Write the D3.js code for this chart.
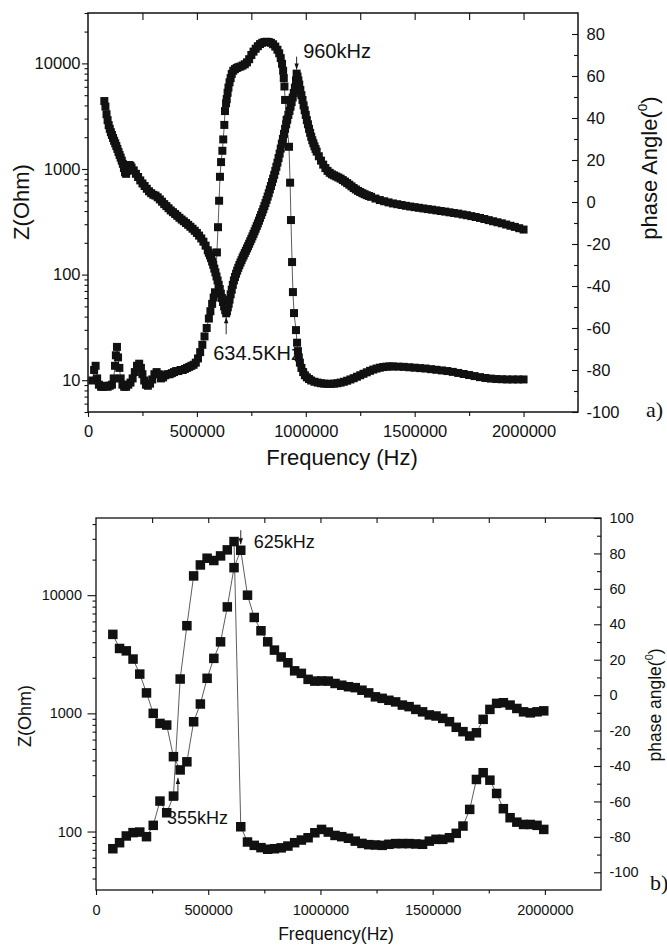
<!DOCTYPE html>
<html>
<head>
<meta charset="utf-8">
<script src="https://cdn.jsdelivr.net/npm/d3@7"></script>
<style>
  body { margin: 0; background: #fff; }
  svg { display: block; }
</style>
</head>
<body>
<script>
// panel a) : dense sweep, [frequency kHz, value]
const zA = [[75,4400],[80,3900],[85,3300],[90,2900],[95,2600],[100,2400],[105,2230],[110,2100],[115,1970],[120,1850],[125,1750],[130,1650],[135,1550],[140,1450],[145,1360],[150,1280],[155,1200],[160,1120],[165,1020],[170,930],[175,900],[180,960],[185,1050],[190,1090],[195,1070],[200,1030],[210,970],[220,900],[230,840],[240,780],[250,730],[260,690],[270,650],[280,615],[290,590],[300,570],[310,560],[320,540],[330,515],[340,490],[350,465],[360,445],[370,425],[380,405],[390,390],[400,375],[410,360],[420,345],[430,332],[440,320],[450,308],[460,296],[470,284],[480,272],[490,260],[500,248],[510,234],[520,220],[530,205],[540,188],[550,170],[555,161],[560,152],[565,143],[570,133],[575,124],[580,114],[585,105],[590,96],[595,88],[600,80],[605,73],[610,66],[615,60],[620,55],[625,50],[630,46],[634.5,43],[638,45],[642,49],[646,53],[650,58],[655,65],[660,72],[665,80],[670,88],[675,95],[680,102],[685,109],[690,116],[695,123],[700,130],[705,137],[710,145],[715,152],[720,160],[725,168],[730,177],[735,186],[740,196],[745,207],[750,218],[755,230],[760,243],[765,257],[770,272],[775,288],[780,305],[785,324],[790,345],[795,367],[800,390],[805,416],[810,445],[815,476],[820,510],[825,548],[830,590],[835,640],[840,690],[845,750],[850,810],[855,880],[860,960],[865,1050],[870,1150],[875,1270],[880,1400],[885,1560],[890,1740],[895,1930],[900,2150],[905,2400],[910,2650],[915,2950],[920,3250],[925,3550],[930,3900],[935,4300],[940,4750],[945,5250],[950,5900],[955,6900],[958,8000],[962,7500],[966,6900],[970,6300],[975,5600],[980,5000],[985,4500],[990,4000],[995,3600],[1000,3250],[1005,2900],[1010,2650],[1015,2400],[1020,2200],[1025,2020],[1030,1870],[1035,1750],[1040,1640],[1045,1545],[1050,1460],[1060,1320],[1070,1200],[1080,1100],[1090,1020],[1100,960],[1110,920],[1120,890],[1130,870],[1140,850],[1150,830],[1160,810],[1170,785],[1180,760],[1190,735],[1200,710],[1210,685],[1220,660],[1230,640],[1240,620],[1250,605],[1260,590],[1270,577],[1280,565],[1290,555],[1300,545],[1320,525],[1340,508],[1360,495],[1380,483],[1400,472],[1420,464],[1440,456],[1460,448],[1480,441],[1500,435],[1520,429],[1540,423],[1560,417],[1580,412],[1600,406],[1620,400],[1640,395],[1660,389],[1680,383],[1700,378],[1720,371],[1740,365],[1760,358],[1780,351],[1800,344],[1820,336],[1840,328],[1860,320],[1880,313],[1900,306],[1920,298],[1940,290],[1960,283],[1980,275],[2000,267]];

const phaseA = [[20,-85],[28,-80],[35,-78],[42,-84],[50,-87],[60,-88],[70,-88],[80,-87.5],[90,-88],[100,-87.5],[110,-87],[118,-84],[124,-78],[128,-73],[133,-69],[138,-74],[144,-79],[150,-84],[158,-87],[166,-88],[175,-88],[185,-87],[195,-86],[205,-84],[215,-81],[225,-78],[235,-77],[243,-79],[250,-82],[258,-85],[266,-87],[275,-87.5],[285,-86.5],[295,-84.5],[305,-82],[315,-81],[325,-82],[335,-84],[345,-83.5],[355,-82.5],[365,-82],[375,-82],[385,-81.5],[395,-81],[405,-80.5],[415,-80.5],[425,-80],[435,-80],[445,-79.5],[455,-79],[465,-78.5],[475,-78],[485,-77.5],[495,-76.5],[505,-74.5],[515,-71.5],[525,-68],[535,-64],[545,-60],[555,-55.5],[562,-52],[570,-48.5],[577,-45.5],[583,-43],[592,-24],[597,-12],[602,0.6],[606,12],[611,19],[617,24.4],[621,29.8],[626,36.7],[629,43.3],[634,47],[637,49],[641,52],[645,54.5],[650,57],[655,59],[660,61],[667,62.5],[675,63.3],[683,63.8],[690,64.2],[700,64.5],[710,65],[720,65.6],[730,66.5],[740,68],[750,70],[760,71.6],[770,73],[780,74.2],[790,75.2],[800,75.8],[810,76.2],[820,76.3],[830,76.2],[840,75.8],[850,75.1],[860,74],[870,72.5],[878,70.8],[885,68.5],[891,65.8],[896,62.5],[899,59],[902,55],[905,48.6],[912,39],[923,26.3],[928,9.2],[932,-8.6],[937,-28.6],[941,-42.9],[946,-52.9],[955,-61],[960,-67],[964,-71],[968,-74],[973,-76.5],[980,-79],[988,-81],[996,-82.5],[1005,-83.5],[1015,-84.3],[1025,-85],[1040,-85.6],[1055,-86],[1070,-86.3],[1085,-86.5],[1100,-86.6],[1115,-86.6],[1130,-86.5],[1145,-86.3],[1160,-86],[1175,-85.6],[1190,-85.1],[1205,-84.5],[1220,-83.9],[1235,-83.2],[1250,-82.5],[1265,-81.8],[1280,-81.1],[1295,-80.4],[1310,-79.8],[1325,-79.3],[1340,-78.9],[1355,-78.6],[1370,-78.4],[1385,-78.3],[1400,-78.3],[1425,-78.4],[1450,-78.5],[1475,-78.7],[1500,-78.9],[1525,-79.1],[1550,-79.3],[1575,-79.6],[1600,-79.9],[1625,-80.2],[1650,-80.5],[1675,-80.9],[1700,-81.4],[1725,-81.9],[1750,-82.4],[1775,-82.9],[1800,-83.4],[1825,-83.8],[1850,-84.1],[1875,-84.3],[1900,-84.4],[1925,-84.5],[1950,-84.5],[1975,-84.5],[2000,-84.5]];

// panel b) : coarse sweep
const freqB = [75,105,135,165,195,225,255,285,315,345,375,405,435,465,495,525,555,585,615,645,675,705,735,765,795,825,855,885,915,945,975,1005,1035,1065,1095,1125,1155,1185,1215,1245,1275,1305,1335,1365,1395,1425,1455,1485,1515,1545,1575,1605,1635,1665,1695,1725,1755,1785,1815,1845,1875,1905,1935,1965,1995];
const zB = [4660,3540,3380,2880,2150,1490,1000,822,796,430,332,389,849,1200,1980,2920,4030,7960,17100,24000,10000,6480,5000,4030,3430,3000,2680,2290,2180,1940,1875,1880,1875,1790,1730,1680,1650,1570,1490,1380,1340,1290,1250,1175,1140,1080,1030,970,950,907,850,762,700,643,685,890,1080,1215,1230,1175,1100,1030,1010,1030,1050];
const phaseB = [-86.7,-83.3,-79.5,-77.6,-77.3,-79.9,-73.5,-59.8,-66.4,-57,9.1,39.2,67.3,73.5,77.3,76,78.6,82,86.7,-74.3,-82.9,-84.8,-86.1,-87,-86.7,-86.2,-85.2,-83.3,-81.8,-80.5,-77.7,-75.8,-77.3,-79.2,-79.9,-80.8,-82.4,-83.7,-84.4,-84.6,-84.8,-84.2,-83.8,-83.8,-83.8,-84,-84.2,-82.4,-81.4,-81.4,-80.5,-78,-73.9,-64.5,-47.6,-43.8,-48,-55.5,-64.1,-69.2,-71.7,-73,-73,-73.5,-75.8];

const xTicks = [0, 500000, 1000000, 1500000, 2000000];
const xMinor = [250000, 750000, 1250000, 1750000];
const topTicks = [250000, 500000, 750000, 1000000, 1250000, 1500000, 1750000, 2000000];
const zTicksA = [10, 100, 1000, 10000];
const zTicksB = [100, 1000, 10000];
const phTicksA = [-100, -80, -60, -40, -20, 0, 20, 40, 60, 80];
const phMinorA = [-90, -70, -50, -30, -10, 10, 30, 50, 70];
const phTicksB = [-100, -80, -60, -40, -20, 0, 20, 40, 60, 80, 100];
const phMinorB = [-90, -70, -50, -30, -10, 10, 30, 50, 70, 90];

const W = 667, H = 945;
const svg = d3.select("body").append("svg")
  .attr("width", W).attr("height", H)
  .style("font-family", '"Liberation Sans", Arial, sans-serif');

function logMinor(dom) {
  let out = [];
  for (let e = Math.floor(Math.log10(dom[0])); e <= Math.ceil(Math.log10(dom[1])); e++) {
    for (let m = 2; m <= 9; m++) {
      let v = m * Math.pow(10, e);
      if (v >= dom[0] && v <= dom[1]) out.push(v);
    }
  }
  return out;
}

function panel(c) {
  let g = svg.append("g");
  let x = d3.scaleLinear().domain([0, 2250000]).range([c.left, c.right]);
  let yZ = d3.scaleLog().domain(c.zDom).range([c.bottom, c.top]);
  let yP = d3.scaleLinear().domain(c.pDom).range([c.bottom, c.top]);

  let style = s => {
    s.select(".domain").remove();
    s.attr("font-size", c.tickFont).attr("font-family", null);
    s.selectAll(".tick line").attr("stroke", "#111").attr("stroke-width", 1.1);
    s.selectAll(".tick text").attr("fill", "#111");
  };
  let plain = d => String(d);

  g.append("g").attr("transform", `translate(0,${c.bottom})`)
    .call(d3.axisBottom(x).tickValues(xTicks).tickFormat(plain).tickSize(5).tickPadding(c.xPad)).call(style);
  g.append("g").attr("transform", `translate(0,${c.bottom})`)
    .call(d3.axisBottom(x).tickValues(xMinor).tickFormat("").tickSize(c.minorX)).call(style);
  g.append("g").attr("transform", `translate(0,${c.top})`)
    .call(d3.axisTop(x).tickValues(topTicks).tickFormat("").tickSize(-c.topTick)).call(style);

  g.append("g").attr("transform", `translate(${c.left},0)`)
    .call(d3.axisLeft(yZ).tickValues(c.zTicks).tickFormat(plain).tickSize(c.zTick).tickPadding(c.zPad)).call(style);
  g.append("g").attr("transform", `translate(${c.left},0)`)
    .call(d3.axisLeft(yZ).tickValues(logMinor(c.zDom)).tickFormat("").tickSize(3.5)).call(style);

  g.append("g").attr("transform", `translate(${c.right},0)`)
    .call(d3.axisRight(yP).tickValues(c.pTicks).tickFormat(plain).tickSize(-c.pTick).tickPadding(c.pPad)).call(style);
  g.append("g").attr("transform", `translate(${c.right},0)`)
    .call(d3.axisRight(yP).tickValues(c.pMinor).tickFormat("").tickSize(-4)).call(style);

  // annotations, drawn under the markers
  c.notes.forEach(n => {
    let ax = x(n.f * 1000);
    let vy = yZ(n.z);
    let tip = vy + n.dir * n.gap;
    let tail = tip + n.dir * n.len;
    g.append("line").attr("x1", ax).attr("x2", ax).attr("y1", tail).attr("y2", tip)
      .attr("stroke", "#111").attr("stroke-width", 0.9);
    g.append("path")
      .attr("d", `M${ax},${tip} L${ax - 2.2},${tip + n.dir * 6} L${ax + 2.2},${tip + n.dir * 6} Z`)
      .attr("fill", "#111");
    g.append("text").attr("x", ax + n.tx).attr("y", tail + n.ty)
      .attr("font-size", n.size).attr("fill", "#111").text(n.text);
  });

  let drawSeries = (data, y) => {
    g.append("path").datum(data)
      .attr("fill", "none").attr("stroke", "#333").attr("stroke-width", 0.8)
      .attr("d", d3.line().x(d => x(d[0] * 1000)).y(d => y(d[1])));
    g.append("g").selectAll("rect").data(data).join("rect")
      .attr("x", d => x(d[0] * 1000) - c.mark / 2)
      .attr("y", d => y(d[1]) - c.mark / 2)
      .attr("width", c.mark).attr("height", c.mark)
      .attr("fill", "#111");
  };
  drawSeries(c.phase, yP);
  drawSeries(c.z, yZ);

  g.append("rect")
    .attr("x", c.left).attr("y", c.top)
    .attr("width", c.right - c.left).attr("height", c.bottom - c.top)
    .attr("fill", "none").attr("stroke", "#111").attr("stroke-width", c.frameW);

  // axis titles
  g.append("text")
    .attr("transform", `translate(${c.zLab[0]},${c.zLab[1]}) rotate(-90)`)
    .attr("text-anchor", "middle").attr("font-size", c.titleFont).attr("fill", "#111")
    .text("Z(Ohm)");
  let pl = g.append("text")
    .attr("transform", `translate(${c.pLab[0]},${c.pLab[1]}) rotate(-90)`)
    .attr("text-anchor", "middle").attr("font-size", c.pFont).attr("fill", "#111");
  pl.append("tspan").text(c.pText);
  pl.append("tspan").attr("font-size", c.pFont * 0.62).attr("dy", "-0.75em").text("0");
  pl.append("tspan").attr("dy", "0.46em").text(")");
  g.append("text")
    .attr("x", c.fLab[0]).attr("y", c.fLab[1])
    .attr("text-anchor", "middle").attr("font-size", c.fFont).attr("fill", "#111")
    .text(c.fText);
  g.append("text")
    .attr("x", c.tag[0]).attr("y", c.tag[1])
    .attr("font-family", '"Liberation Serif", "Times New Roman", serif')
    .attr("font-size", 22).attr("fill", "#111")
    .text(c.tagText);
}

panel({
  left: 88, right: 578, top: 13, bottom: 412,
  zDom: [5, 30000], pDom: [-100, 90],
  zTicks: zTicksA, pTicks: phTicksA, pMinor: phMinorA,
  tickFont: 16.5, xPad: 8.5, minorX: 4, topTick: 7,
  zTick: 6, zPad: 1.5, pTick: 6, pPad: 8.5,
  mark: 8, frameW: 1.5,
  z: zA, phase: phaseA,
  notes: [
    {text: "960kHz", f: 958, z: 8000, dir: -1, gap: 4, len: 13, tx: 6.5, ty: 1, size: 20},
    {text: "634.5KHz", f: 634.5, z: 43, dir: 1, gap: 4, len: 17, tx: -13, ty: 26, size: 20}
  ],
  titleFont: 22, zLab: [29, 202],
  pText: "phase Angle(", pFont: 22, pLab: [657, 168],
  fText: "Frequency (Hz)", fFont: 22, fLab: [342, 465],
  tagText: "a)", tag: [646, 417]
});

panel({
  left: 96, right: 601, top: 518, bottom: 890,
  zDom: [32, 45000], pDom: [-110, 100],
  zTicks: zTicksB, pTicks: phTicksB, pMinor: phMinorB,
  tickFont: 14.5, xPad: 9.5, minorX: 3.5, topTick: 5,
  zTick: 8.5, zPad: 5.5, pTick: 7, pPad: 8.5,
  mark: 9.5, frameW: 1.3,
  z: freqB.map((f, i) => [f, zB[i]]),
  phase: freqB.map((f, i) => [f, phaseB[i]]),
  notes: [
    {text: "625kHz", f: 645, z: 24000, dir: -1, gap: 6, len: 14, tx: 13, ty: 18, size: 18},
    {text: "355kHz", f: 365, z: 332, dir: 1, gap: 8, len: 22, tx: -11, ty: 24, size: 18}
  ],
  titleFont: 18, zLab: [31, 716],
  pText: "phase angle(", pFont: 17.5, pLab: [661, 705],
  fText: "Frequency(Hz)", fFont: 17.5, fLab: [336, 940],
  tagText: "b)", tag: [650, 890]
});
</script>
</body>
</html>
